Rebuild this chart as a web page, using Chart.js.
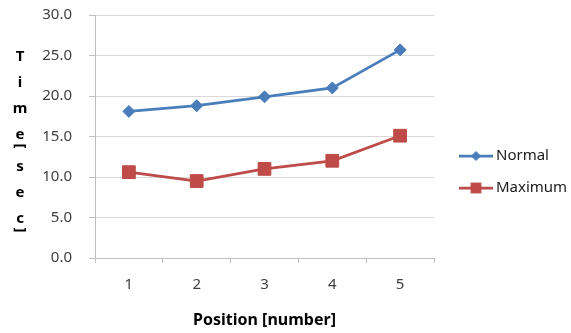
<!DOCTYPE html>
<html>
<head>
<meta charset="utf-8">
<script src="https://cdn.jsdelivr.net/npm/chart.js@4/dist/chart.umd.min.js"></script>
<style>
  html, body { margin: 0; padding: 0; background: #ffffff; }
  #wrap { width: 571px; height: 333px; position: relative; }
</style>
</head>
<body>
<div id="wrap"><canvas id="c" width="571" height="333"></canvas></div>
<script>
// Positions along the track and measured times
const categories = ['1', '2', '3', '4', '5'];
const normalTimes = [18.1, 18.8, 19.9, 21.0, 25.7];
const maximumTimes = [10.6, 9.5, 11.0, 12.0, 15.1];
const seriesNames = ['Normal', 'Maximum'];
const yTitleChars = ['T', 'i', 'm', 'e', '[', 's', 'e', 'c', ']'];
const xTitle = 'Position [number]';

const BLUE = '#4a7ebb';
const RED = '#be4b48';
const FONT = '"Noto Sans", "DejaVu Sans", sans-serif';

// Stacked vertical axis title, brackets turned sideways
const stackedTitle = {
  id: 'stackedTitle',
  afterDraw(chart) {
    const ctx = chart.ctx;
    const area = chart.chartArea;
    ctx.save();
    ctx.font = 'bold 15px ' + FONT;
    ctx.fillStyle = '#000000';
    ctx.textAlign = 'center';
    ctx.textBaseline = 'middle';
    let y = area.top + 42;
    const x = 20;
    yTitleChars.forEach((ch, i) => {
      const isBracket = ch === '[' || ch === ']';
      if (i > 0) {
        const prevBracket = yTitleChars[i - 1] === '[' || yTitleChars[i - 1] === ']';
        y += isBracket ? 11 : (prevBracket ? 21 : 26);
      }
      if (isBracket) {
        ctx.save();
        ctx.translate(x, y);
        ctx.rotate(Math.PI / 2);
        ctx.fillText(ch, 0, 0);
        ctx.restore();
      } else {
        ctx.fillText(ch, x, y);
      }
    });
    ctx.restore();
  }
};

// Legend on the right: line with marker and series name
const sideLegend = {
  id: 'sideLegend',
  afterDraw(chart) {
    const ctx = chart.ctx;
    const rows = [156, 188];
    chart.data.datasets.forEach((ds, i) => {
      const y = rows[i];
      ctx.save();
      ctx.strokeStyle = ds.borderColor;
      ctx.lineWidth = ds.borderWidth;
      ctx.beginPath();
      ctx.moveTo(459, y);
      ctx.lineTo(493, y);
      ctx.stroke();
      ctx.fillStyle = ds.pointBackgroundColor;
      ctx.strokeStyle = ds.pointBorderColor;
      ctx.lineWidth = 1;
      Chart.helpers.drawPoint(ctx, {
        pointStyle: ds.pointStyle,
        radius: i === 0 ? 4.5 : 7,
        rotation: 0,
        borderWidth: 1
      }, 476, y);
      ctx.font = '15px ' + FONT;
      ctx.fillStyle = '#1a1a1a';
      ctx.textAlign = 'left';
      ctx.textBaseline = 'middle';
      ctx.fillText(ds.label, 496, y);
      ctx.restore();
    });
  }
};

new Chart(document.getElementById('c'), {
  type: 'line',
  data: {
    labels: categories,
    datasets: [
      {
        label: seriesNames[0],
        data: normalTimes,
        borderColor: BLUE,
        backgroundColor: BLUE,
        pointBackgroundColor: BLUE,
        pointBorderColor: BLUE,
        borderWidth: 2.75,
        pointStyle: 'rectRot',
        pointRadius: 6,
        pointBorderWidth: 1,
        tension: 0
      },
      {
        label: seriesNames[1],
        data: maximumTimes,
        borderColor: RED,
        backgroundColor: RED,
        pointBackgroundColor: RED,
        pointBorderColor: RED,
        borderWidth: 2.75,
        pointStyle: 'rect',
        pointRadius: 9,
        pointBorderWidth: 1,
        tension: 0
      }
    ]
  },
  options: {
    responsive: false,
    animation: false,
    devicePixelRatio: 1,
    layout: { autoPadding: false, padding: { top: 15, right: 137, left: 0, bottom: 0 } },
    plugins: {
      legend: { display: false },
      tooltip: { enabled: false }
    },
    scales: {
      x: {
        type: 'category',
        offset: true,
        afterFit(scale) { scale.height = 75; },
        grid: {
          offset: true,
          drawOnChartArea: false,
          drawTicks: true,
          tickLength: 5,
          tickColor: '#bfbfbf',
          color: '#bfbfbf'
        },
        border: { color: '#bfbfbf', width: 1 },
        ticks: {
          padding: 13,
          color: '#404040',
          font: { family: FONT, size: 15 }
        },
        title: {
          display: true,
          text: xTitle,
          color: '#000000',
          font: { family: FONT, size: 16, weight: 'bold' },
          padding: { top: 3, bottom: 3 }
        }
      },
      y: {
        min: 0,
        max: 30,
        afterFit(scale) {
          scale.width = 95;
          scale.paddingTop = 0;
          scale.paddingBottom = 0;
        },
        grid: {
          color: '#d9d9d9',
          lineWidth: 1,
          drawTicks: true,
          tickLength: 6,
          tickColor: '#bfbfbf'
        },
        border: { color: '#bfbfbf', width: 1 },
        ticks: {
          stepSize: 5,
          padding: 17,
          color: '#404040',
          font: { family: FONT, size: 15 },
          callback: (v) => Number(v).toFixed(1)
        }
      }
    }
  },
  plugins: [stackedTitle, sideLegend]
});
</script>
</body>
</html>
